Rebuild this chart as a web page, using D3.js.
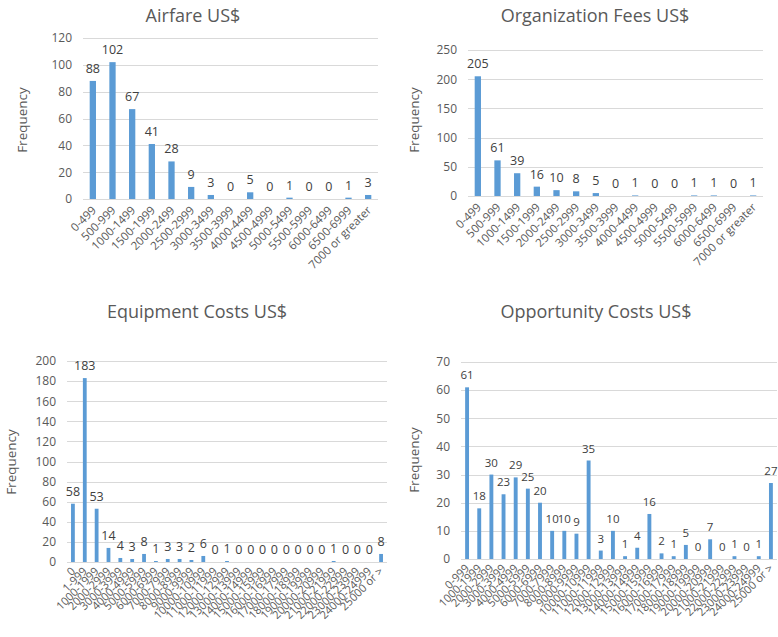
<!DOCTYPE html>
<html>
<head>
<meta charset="utf-8">
<script src="https://cdn.jsdelivr.net/npm/d3@7"></script>
<style>
  html, body { margin: 0; padding: 0; background: #ffffff; }
  svg { display: block; font-family: "Open Sans", sans-serif; }
</style>
</head>
<body>
<svg id="chart" width="778" height="637"></svg>
<script>
// ---------- data ----------
const airCats = ["0-499","500-999","1000-1499","1500-1999","2000-2499","2500-2999","3000-3499","3500-3999","4000-4499","4500-4999","5000-5499","5500-5999","6000-6499","6500-6999","7000 or greater"];
const airVals = [88,102,67,41,28,9,3,0,5,0,1,0,0,1,3];

const orgCats = ["0-499","500-999","1000-1499","1500-1999","2000-2499","2500-2999","3000-3499","3500-3999","4000-4499","4500-4999","5000-5499","5500-5999","6000-6499","6500-6999","7000 or greater"];
const orgVals = [205,61,39,16,10,8,5,0,1,0,0,1,1,0,1];

const equipCats = ["0","1-999","1000-1999","2000-2999","3000-3999","4000-4999","5000-5999","6000-6999","7000-7999","8000-8999","9000-9999","10000-10999","11000-11999","12000-12999","13000-13999","14000-14999","15000-15999","16000-16999","17000-17999","18000-18999","19000-19999","20000-20999","21000-21999","22000-22999","23000-23999","24000-24999","25000 or >"];
const equipVals = [58,183,53,14,4,3,8,1,3,3,2,6,0,1,0,0,0,0,0,0,0,0,1,0,0,0,8];

const oppCats = ["0-999","1000-1999","2000-2999","3000-3999","4000-4999","5000-5999","6000-6999","7000-7999","8000-8999","9000-9999","10000-10999","11000-11999","12000-12999","13000-13999","14000-14999","15000-15999","16000-16999","17000-17999","18000-18999","19000-19999","20000-20999","21000-21999","22000-22999","23000-23999","24000-24999","25000 or >"];
const oppVals = [61,18,30,23,29,25,20,10,10,9,35,3,10,1,4,16,2,1,5,0,7,0,1,0,1,27];

const airTicks = [0,20,40,60,80,100,120];
const orgTicks = [0,50,100,150,200,250];
const equipTicks = [0,20,40,60,80,100,120,140,160,180,200];
const oppTicks = [0,10,20,30,40,50,60,70];

// ---------- layout ----------
const panels = [
  {title:"Airfare US$", cats:airCats, vals:airVals, ticks:airTicks,
   left:83, right:378, top:38, bottom:199, titleX:193, titleY:22, freqX:22, freqY:120,
   xFont:11.5, xDx:4, xDy:12, lblFont:12.5, tickFont:12},
  {title:"Organization Fees US$", cats:orgCats, vals:orgVals, ticks:orgTicks,
   left:468, right:763, top:50, bottom:196, titleX:595, titleY:22, freqX:414, freqY:120,
   xFont:11.5, xDx:4, xDy:12, lblFont:12.5, tickFont:12},
  {title:"Equipment Costs US$", cats:equipCats, vals:equipVals, ticks:equipTicks,
   left:67, right:387, top:361, bottom:562, titleX:197, titleY:318, freqX:11, freqY:462,
   xFont:11.2, xDx:3, xDy:10, lblFont:12.5, tickFont:12},
  {title:"Opportunity Costs US$", cats:oppCats, vals:oppVals, ticks:oppTicks,
   left:461, right:777, top:362, bottom:559, titleX:596, titleY:318, freqX:414, freqY:460,
   xFont:11.2, xDx:3, xDy:10, lblFont:11.5, tickFont:12}
];

const svg = d3.select("#chart");
const barColor = "#5B9BD5";
const gridColor = "#d9d9d9";
const textColor = "#595959";
const labelColor = "#404040";

panels.forEach(p => {
  const g = svg.append("g");
  const x = d3.scaleBand().domain(p.cats).range([p.left, p.right]).paddingInner(0.68).paddingOuter(0.34);
  const y = d3.scaleLinear().domain([0, d3.max(p.ticks)]).range([p.bottom, p.top]);

  // gridlines
  g.append("g").selectAll("line").data(p.ticks).join("line")
    .attr("x1", p.left).attr("x2", p.right)
    .attr("y1", d => Math.round(y(d)) + 0.5).attr("y2", d => Math.round(y(d)) + 0.5)
    .attr("stroke", gridColor).attr("stroke-width", 1);

  // y axis tick labels
  const yAxis = d3.axisLeft(y).tickValues(p.ticks).tickSize(0).tickPadding(0);
  const ya = g.append("g").attr("transform", `translate(${p.left - 11},0)`).call(yAxis);
  ya.select(".domain").remove();
  ya.selectAll("text").attr("fill", textColor).attr("font-size", p.tickFont)
    .attr("font-family", "Open Sans, sans-serif");

  // bars
  g.append("g").selectAll("rect").data(p.vals).join("rect")
    .attr("x", (d, i) => x(p.cats[i]))
    .attr("width", x.bandwidth())
    .attr("y", d => y(d))
    .attr("height", d => y(0) - y(d))
    .attr("fill", barColor);

  // data labels
  g.append("g").selectAll("text").data(p.vals).join("text")
    .attr("x", (d, i) => x(p.cats[i]) + x.bandwidth() / 2)
    .attr("y", d => y(d) - 8)
    .attr("text-anchor", "middle")
    .attr("font-size", p.lblFont)
    .attr("fill", labelColor)
    .text(d => d);

  // x axis labels
  const xAxis = d3.axisBottom(x).tickSize(0).tickPadding(0);
  const xa = g.append("g").attr("transform", `translate(0,${p.bottom})`).call(xAxis);
  xa.select(".domain").remove();
  xa.selectAll("text")
    .attr("font-size", p.xFont)
    .attr("fill", textColor)
    .attr("font-family", "Open Sans, sans-serif")
    .attr("text-anchor", "end")
    .attr("dy", 0)
    .attr("y", 0)
    .attr("transform", `translate(${p.xDx},${p.xDy}) rotate(-45)`);

  // title
  g.append("text").attr("x", p.titleX).attr("y", p.titleY)
    .attr("text-anchor", "middle").attr("font-size", 18).attr("fill", textColor)
    .text(p.title);

  // y-axis title
  g.append("text")
    .attr("transform", `translate(${p.freqX},${p.freqY}) rotate(-90)`)
    .attr("text-anchor", "middle").attr("dy", "0.35em")
    .attr("font-size", 13.5).attr("fill", textColor)
    .text("Frequency");
});
</script>
</body>
</html>
